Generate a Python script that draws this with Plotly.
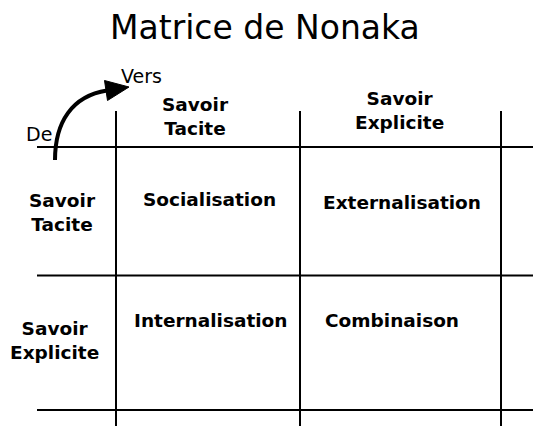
import plotly.graph_objects as go

# ---- content ----
title_text = "Matrice de Nonaka"
from_label = "De"
to_label = "Vers"
col_labels = ["Savoir<br>Tacite", "Savoir<br>Explicite"]
row_labels = ["Savoir<br>Tacite", "Savoir<br>Explicite"]
cell_labels = [["Socialisation", "Externalisation"],
               ["Internalisation", "Combinaison"]]

# ---- layout geometry (pixels, y downward) ----
W, H = 533, 426
col_edges = [116, 300, 501]
row_edges = [147, 275.5, 410]
grid_top, grid_left = 111, 37
col_label_pos = [(195, 116), (399, 110)]
row_label_pos = [(62, 212.5), (54, 340.5)]
cell_pos = [[(209, 199.5), (402, 202)], [(210, 320.5), (392, 320)]]

FONT = "DejaVu Sans"
BOLD = 18.5

fig = go.Figure()
fig.add_trace(go.Scatter(x=[0, W], y=[0, H], mode="markers",
                         marker=dict(opacity=0), hoverinfo="skip", showlegend=False))

shapes = []
for x in col_edges:
    shapes.append(dict(type="line", x0=x, x1=x, y0=grid_top, y1=H,
                       line=dict(color="black", width=2)))
for y in row_edges:
    shapes.append(dict(type="line", x0=grid_left, x1=W, y0=y, y1=y,
                       line=dict(color="black", width=2)))
# curved arrow from "De" to "Vers"
shapes.append(dict(type="path", path="M 55 160 C 55 122, 72 96, 107 90.5",
                   line=dict(color="black", width=4)))
shapes.append(dict(type="path", path="M 129 87 L 104.5 80.5 L 107.5 100.5 Z",
                   fillcolor="black", line=dict(color="black", width=1)))

ann = []
def add(text, x, y, size, bold=True):
    ann.append(dict(text=f"<b>{text}</b>" if bold else text, x=x, y=y,
                    xref="x", yref="y", xanchor="center", yanchor="middle",
                    showarrow=False, font=dict(family=FONT, size=size, color="black")))

add(title_text, 265, 27, 33, bold=False)
add(to_label, 141, 76, 19, bold=False)
add(from_label, 39, 134, 19, bold=False)
for lab, (x, y) in zip(col_labels, col_label_pos):
    add(lab, x, y, BOLD)
for lab, (x, y) in zip(row_labels, row_label_pos):
    add(lab, x, y, BOLD)
for r in range(2):
    for c in range(2):
        x, y = cell_pos[r][c]
        add(cell_labels[r][c], x, y, BOLD)

fig.update_layout(
    width=W, height=H, margin=dict(l=0, r=0, t=0, b=0),
    paper_bgcolor="white", plot_bgcolor="white",
    xaxis=dict(range=[0, W], visible=False, fixedrange=True),
    yaxis=dict(range=[H, 0], visible=False, fixedrange=True),
    shapes=shapes, annotations=ann, showlegend=False,
)
fig.write_html("out.html", config={"displayModeBar": False},
               post_script="document.body.style.margin='0';document.body.style.overflow='hidden';")
